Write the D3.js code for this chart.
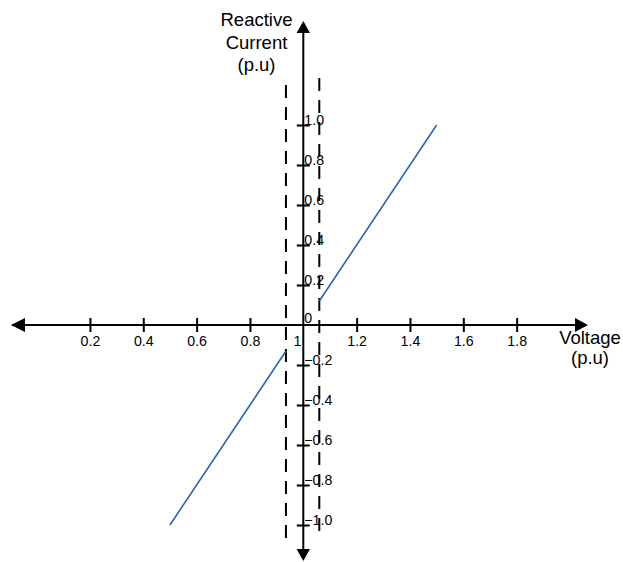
<!DOCTYPE html>
<html>
<head>
<meta charset="utf-8">
<script src="https://cdn.jsdelivr.net/npm/d3@7"></script>
<style>
  body { margin: 0; background: #fff; }
  svg { display: block; font-family: "Liberation Sans", Arial, sans-serif; }
</style>
</head>
<body>
<svg id="chart" width="623" height="562"></svg>
<script>
// values
var xTicks = [0.2, 0.4, 0.6, 0.8, 1.2, 1.4, 1.6, 1.8];
var yTicks = [1.0, 0.8, 0.6, 0.4, 0.2, -0.2, -0.4, -0.6, -0.8, -1.0];
var deadBand = [0.935, 1.06];
var dashTop = [1.2, 1.235];
var dashBottom = [-1.1, -1.075];
var upperLine = [{v: 1.06, i: 0.12}, {v: 1.5, i: 1.0}];
var lowerLine = [{v: 0.5, i: -1.0}, {v: 0.935, i: -0.13}];

var svg = d3.select("#chart");
var tickFont = 14.2;

var x = d3.scaleLinear().domain([0, 2]).range([36.6, 570]);
var y = d3.scaleLinear().domain([-1, 1]).range([525, 125]);
var x0 = x(1), y0 = y(0);

// axis lines with arrow heads
svg.append("line")
    .attr("x1", 12).attr("x2", 580)
    .attr("y1", y0).attr("y2", y0)
    .attr("stroke", "#000").attr("stroke-width", 2);
svg.append("line")
    .attr("x1", x0).attr("x2", x0)
    .attr("y1", 30).attr("y2", 552)
    .attr("stroke", "#000").attr("stroke-width", 2);

var heads = [
    [[11, y0], [25, y0 - 7], [25, y0 + 7]],
    [[588, y0], [575, y0 - 7], [575, y0 + 7]],
    [[x0, 21], [x0 - 6.7, 33], [x0 + 6.7, 33]],
    [[x0, 561], [x0 - 6.7, 549], [x0 + 6.7, 549]]
];
svg.selectAll("polygon.head")
    .data(heads)
    .enter().append("polygon")
    .attr("class", "head")
    .attr("points", function(d) { return d.map(function(p) { return p.join(","); }).join(" "); })
    .attr("fill", "#000");

// x axis ticks
var gx = svg.append("g")
    .attr("transform", "translate(0," + y0 + ")")
    .call(d3.axisBottom(x).tickValues(xTicks).tickSize(7).tickFormat(d3.format(".1f")));
gx.select(".domain").remove();
gx.attr("font-size", tickFont).attr("font-family", "Liberation Sans, Arial, sans-serif");
gx.selectAll(".tick line").attr("y1", -7).attr("y2", 7).attr("stroke-width", 2);
gx.selectAll(".tick text")
    .attr("y", 20.5).attr("dy", 0)
    .attr("fill", "#000");

// y axis ticks
var gy = svg.append("g")
    .attr("transform", "translate(" + x0 + ",0)")
    .call(d3.axisLeft(y).tickValues(yTicks).tickSize(6.5).tickFormat(d3.format(".1f")));
gy.select(".domain").remove();
gy.attr("font-size", tickFont).attr("font-family", "Liberation Sans, Arial, sans-serif");
gy.selectAll(".tick line").attr("x1", -6.5).attr("x2", 6.5).attr("stroke-width", 2);
gy.selectAll(".tick text")
    .attr("x", 1).attr("y", -1).attr("dy", 0)
    .attr("text-anchor", "start")
    .attr("fill", "#000");

// origin labels
svg.append("text")
    .attr("x", x0 - 2).attr("y", y0 + 20.5)
    .attr("text-anchor", "end").attr("font-size", tickFont)
    .text("1");
svg.append("text")
    .attr("x", x0 + 1).attr("y", y0 - 2)
    .attr("font-size", tickFont)
    .text("0");

// dead band dashed lines
svg.selectAll("line.band")
    .data(deadBand)
    .enter().append("line")
    .attr("class", "band")
    .attr("x1", function(d) { return x(d); })
    .attr("x2", function(d) { return x(d); })
    .attr("y1", function(d, k) { return y(dashTop[k]); })
    .attr("y2", function(d, k) { return y(dashBottom[k]); })
    .attr("stroke", "#000").attr("stroke-width", 2)
    .attr("stroke-dasharray", "13,9");

// characteristic lines
var line = d3.line()
    .x(function(d) { return x(d.v); })
    .y(function(d) { return y(d.i); });
svg.selectAll("path.char")
    .data([upperLine, lowerLine])
    .enter().append("path")
    .attr("class", "char")
    .attr("d", line)
    .attr("fill", "none")
    .attr("stroke", "#2f62ae")
    .attr("stroke-width", 1.6);

// axis titles
var yTitle = svg.append("text")
    .attr("text-anchor", "middle").attr("font-size", 18.5);
["Reactive", "Current", "(p.u)"].forEach(function(s, k) {
    yTitle.append("tspan").attr("x", 256.5).attr("y", 26 + k * 22.7).text(s);
});
var xTitle = svg.append("text")
    .attr("text-anchor", "middle").attr("font-size", 18.5);
["Voltage", "(p.u)"].forEach(function(s, k) {
    xTitle.append("tspan").attr("x", 590).attr("y", 344 + k * 19.5).text(s);
});
</script>
</body>
</html>
